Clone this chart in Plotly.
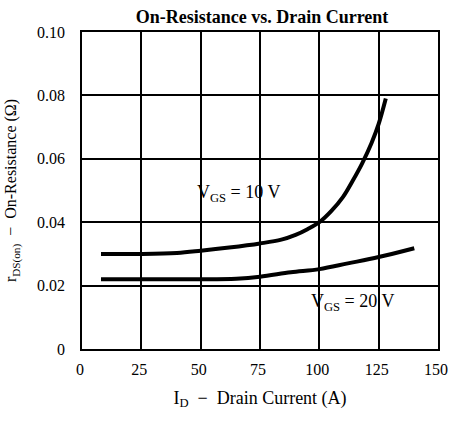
import plotly.graph_objects as go

id_10v = [8, 25, 40, 50, 62, 75, 84, 90, 95, 100, 105, 110, 114, 118, 122, 125, 128]
r_10v = [0.0300, 0.0300, 0.0303, 0.0310, 0.0320, 0.0333, 0.0345, 0.0360, 0.0378, 0.0400,
         0.0435, 0.0480, 0.0530, 0.0585, 0.0650, 0.0710, 0.0790]

id_20v = [8, 25, 50, 65, 75, 88, 100, 112, 125, 140]
r_20v = [0.0220, 0.0220, 0.0220, 0.0222, 0.0228, 0.0242, 0.0252, 0.0270, 0.0290, 0.0318]

x_ticks = [0, 25, 50, 75, 100, 125, 150]
y_ticks = [0, 0.02, 0.04, 0.06, 0.08, 0.10]
y_tick_text = ["0", "0.02", "0.04", "0.06", "0.08", "0.10"]

font = "Liberation Serif, Times New Roman, serif"

fig = go.Figure()
for xs, ys in [(id_10v, r_10v), (id_20v, r_20v)]:
    fig.add_trace(go.Scatter(x=xs, y=ys, mode="lines",
                             line=dict(color="black", width=4, shape="spline"),
                             showlegend=False, hoverinfo="skip"))

fig.add_annotation(x=66, y=0.049, text="V<sub>GS</sub> = 10 V", showarrow=False,
                   font=dict(family=font, size=18, color="black"))
fig.add_annotation(x=114, y=0.0148, text="V<sub>GS</sub> = 20 V", showarrow=False,
                   font=dict(family=font, size=18, color="black"))

fig.update_layout(
    width=449, height=425,
    margin=dict(l=82, r=11, t=32, b=76),
    paper_bgcolor="white", plot_bgcolor="white",
    font=dict(family=font, size=16, color="black"),
    title=dict(text="<b>On-Resistance vs. Drain Current</b>", x=0.5835, xanchor="center",
               y=0.96, yanchor="middle", font=dict(family=font, size=18, color="black")),
)
fig.update_xaxes(range=[0, 150], tickvals=x_ticks, showgrid=True, gridcolor="black",
                 gridwidth=1.5, showline=True, linecolor="black", linewidth=1.5, mirror=True,
                 zeroline=False, ticks="", ticklen=0, ticklabelshift=-2, ticklabelstandoff=5,
                 ticklabeloverflow="allow",
                 tickfont=dict(family=font, size=16), automargin=False,
                 title=dict(text="I<sub>D</sub>  −  Drain Current (A)", standoff=14,
                            font=dict(family=font, size=18)))
fig.update_yaxes(range=[0, 0.10], tickvals=y_ticks, ticktext=y_tick_text, showgrid=True,
                 gridcolor="black", gridwidth=1.5, showline=True, linecolor="black",
                 linewidth=1.5, mirror=True, zeroline=False, ticks="outside", ticklen=12,
                 tickcolor="white", tickfont=dict(family=font, size=16), automargin=False,
                 title=dict(text="r<sub>DS(on)</sub>  −  On-Resistance (Ω)", standoff=16,
                            font=dict(family=font, size=16)))

fig.write_html("out.html", config={"displayModeBar": False},
               post_script="document.body.style.margin='0';document.body.style.overflow='hidden';")
